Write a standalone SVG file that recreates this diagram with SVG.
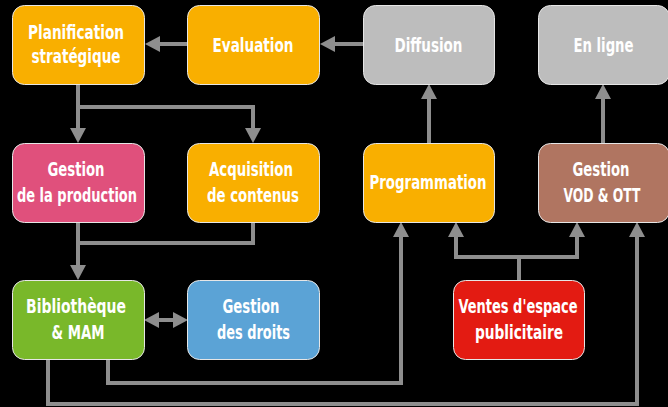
<svg xmlns="http://www.w3.org/2000/svg" width="668" height="407" viewBox="0 0 668 407">
<defs>
<style>
.bg{fill:#000}
.box{stroke:#e6e6e6;stroke-width:1}
.orange{fill:#F9AF00}
.pink{fill:#E0507C}
.gray{fill:#BDBDBD}
.brown{fill:#B07561}
.green{fill:#79B82A}
.blue{fill:#5BA3D6}
.red{fill:#E31B12}
text{font-family:"Liberation Sans Narrow","DejaVu Sans Condensed","Liberation Sans",sans-serif;font-weight:bold;font-size:19px;fill:#fff;text-anchor:middle}
.c{fill:none;stroke:#8E8E8E;stroke-width:4;stroke-linejoin:miter}
.a{marker-end:url(#ah)}
.aa{marker-start:url(#ah);marker-end:url(#ah)}
</style>
<marker id="ah" viewBox="0 0 15 16" refX="7" refY="8" markerWidth="15" markerHeight="16" markerUnits="userSpaceOnUse" orient="auto-start-reverse">
<path d="M0,0 L15,8 L0,16 z" fill="#8E8E8E"/>
</marker>
</defs>
<rect class="bg" x="0" y="0" width="668" height="407"/>
<g id="connectors">
<path class="c a" d="M188,44 H153"/>
<path class="c a" d="M363,44 H328"/>
<path class="c a" d="M78,84 V135"/>
<path class="c a" d="M78,107 H253 V135"/>
<path class="c a" d="M429,143 V92"/>
<path class="c a" d="M603,143 V92"/>
<path class="c a" d="M78,222 V272"/>
<path class="c" d="M253,222 V243 H78"/>
<path class="c aa" d="M152,320 H180"/>
<path class="c a" d="M108,359 V383 H401 V230"/>
<path class="c a" d="M48,359 V404 H637 V230"/>
<path class="c" d="M519,280 V257"/>
<path class="c aa" d="M456,230 V257 H577 V230"/>
</g>
<g id="planification">
<rect class="box orange" x="12.5" y="5.5" width="132" height="79" rx="12"/>
<text x="76" y="39" textLength="96" lengthAdjust="spacingAndGlyphs">Planification</text>
<text x="76" y="63" textLength="89" lengthAdjust="spacingAndGlyphs">stratégique</text>
</g>
<g id="evaluation">
<rect class="box orange" x="187.5" y="5.5" width="132" height="79" rx="12"/>
<text x="253" y="52" textLength="81" lengthAdjust="spacingAndGlyphs">Evaluation</text>
</g>
<g id="diffusion">
<rect class="box gray" x="363.5" y="5.5" width="131" height="79" rx="12"/>
<text x="428.5" y="52" textLength="68" lengthAdjust="spacingAndGlyphs">Diffusion</text>
</g>
<g id="enligne">
<rect class="box gray" x="538.5" y="5.5" width="131" height="79" rx="12"/>
<text x="603.5" y="52" textLength="60" lengthAdjust="spacingAndGlyphs">En ligne</text>
</g>
<g id="gestionproduction">
<rect class="box pink" x="12.5" y="143.5" width="132" height="79" rx="12"/>
<text x="76" y="176" textLength="57" lengthAdjust="spacingAndGlyphs">Gestion</text>
<text x="77" y="202" textLength="120" lengthAdjust="spacingAndGlyphs">de la production</text>
</g>
<g id="acquisition">
<rect class="box orange" x="187.5" y="143.5" width="132" height="79" rx="12"/>
<text x="251" y="176" textLength="84" lengthAdjust="spacingAndGlyphs">Acquisition</text>
<text x="253" y="202" textLength="92" lengthAdjust="spacingAndGlyphs">de contenus</text>
</g>
<g id="programmation">
<rect class="box orange" x="363.5" y="143.5" width="131" height="79" rx="12"/>
<text x="428" y="189" textLength="117" lengthAdjust="spacingAndGlyphs">Programmation</text>
</g>
<g id="gestionvod">
<rect class="box brown" x="538.5" y="143.5" width="131" height="79" rx="12"/>
<text x="601" y="176" textLength="57" lengthAdjust="spacingAndGlyphs">Gestion</text>
<text x="602" y="202" textLength="77" lengthAdjust="spacingAndGlyphs">VOD &amp; OTT</text>
</g>
<g id="bibliotheque">
<rect class="box green" x="12.5" y="280.5" width="132" height="79" rx="12"/>
<text x="76" y="313" textLength="100" lengthAdjust="spacingAndGlyphs">Bibliothèque</text>
<text x="78" y="339" textLength="53" lengthAdjust="spacingAndGlyphs">&amp; MAM</text>
</g>
<g id="gestiondroits">
<rect class="box blue" x="187.5" y="280.5" width="132" height="79" rx="12"/>
<text x="251" y="313" textLength="57" lengthAdjust="spacingAndGlyphs">Gestion</text>
<text x="253.5" y="339" textLength="73" lengthAdjust="spacingAndGlyphs">des droits</text>
</g>
<g id="ventes">
<rect class="box red" x="453.5" y="280.5" width="131" height="79" rx="12"/>
<text x="518" y="313" textLength="119" lengthAdjust="spacingAndGlyphs">Ventes d'espace</text>
<text x="519" y="339" textLength="88" lengthAdjust="spacingAndGlyphs">publicitaire</text>
</g>
</svg>
